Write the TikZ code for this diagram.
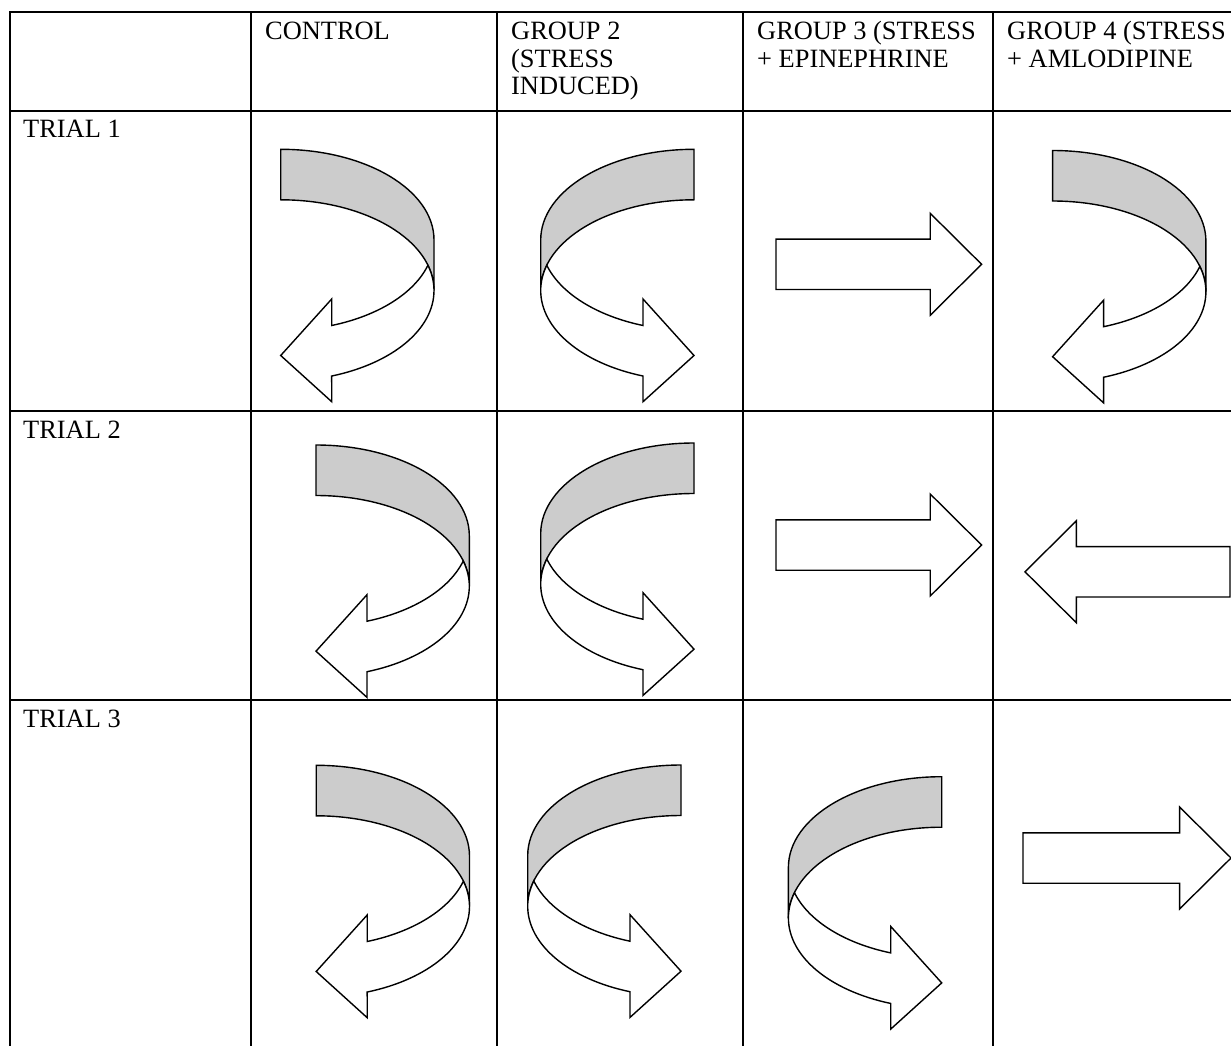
\documentclass[tikz,border=0pt]{standalone}
\usepackage{fontspec}
\setmainfont{Liberation Serif}
\definecolor{bandgray}{RGB}{204,204,204}
\tikzset{
  grid line/.style={line width=2pt, line cap=rect},
  outline/.style={draw=black, line width=1.4pt, line join=miter},
  lbl/.style={anchor=base west, inner sep=0pt, font=\fontsize{26.4}{27.5}\selectfont},
  pics/curvedleft/.style={code={
    \path[outline, fill=bandgray] (0,0)
      arc[start angle=90, end angle=0, x radius=153.3, y radius=90.7]
      -- ++(0,-50.5)
      arc[start angle=0, end angle=90, x radius=153.3, y radius=90.7] -- cycle;
    \path[outline, fill=white] (153.3,-141.2)
      arc[start angle=0, end angle=-70.57, x radius=153.3, y radius=90.7]
      -- (51,-252.4) -- (0,-206.2) -- (51,-149.7) -- (51,-176.2)
      arc[start angle=-70.57, end angle=-16.2, x radius=153.3, y radius=90.7]
      arc[start angle=16.2, end angle=0, x radius=153.3, y radius=90.7] -- cycle;
  }},
  pics/rarrow/.style={code={
    \path[outline, fill=white] (0,25.2) -- (#1-51.4,25.2) -- (#1-51.4,51) -- (#1,0)
      -- (#1-51.4,-51) -- (#1-51.4,-25.2) -- (0,-25.2) -- cycle;
  }}
}
\begin{document}
\begin{tikzpicture}[x=1pt,y=1pt]
\path[use as bounding box] (0,0) rectangle (1231,-1046);
\begin{scope}
\clip (0,0) rectangle (1231,-1046);
% table grid
\foreach \yy in {12.5,111,411,700} \draw[grid line] (9.5,-\yy) -- (1240,-\yy);
\foreach \xx in {9.5,251,497,743,993} \draw[grid line] (\xx,-12.5) -- (\xx,-1060);
% header labels
\node[lbl] (hc) at (265,-40) {CONTROL};
\node[lbl] (hg2a) at (511,-40) {GROUP 2};
\node[lbl] (hg2b) at (511,-67.5) {(STRESS};
\node[lbl] (hg2c) at (511,-95) {INDUCED)};
\node[lbl] (hg3a) at (757,-40) {GROUP 3 (STRESS};
\node[lbl] (hg3b) at (757,-67.5) {+ EPINEPHRINE};
\node[lbl] (hg4a) at (1007,-40) {GROUP 4 (STRESS};
\node[lbl] (hg4b) at (1007,-67.5) {+ AMLODIPINE};
\node[lbl] (t1) at (23,-138) {TRIAL 1};
\node[lbl] (t2) at (23,-438) {TRIAL 2};
\node[lbl] (t3) at (23,-727) {TRIAL 3};
% trial 1
\pic at (280.7,-149.3) {curvedleft};
\pic[xscale=-1] at (694,-149.3) {curvedleft};
\pic at (776,-264.3) {rarrow=205.6};
\pic at (1052.6,-150.5) {curvedleft};
% trial 2
\pic at (316,-445) {curvedleft};
\pic[xscale=-1] at (694,-443) {curvedleft};
\pic at (776,-545) {rarrow=205.6};
\pic[xscale=-1] at (1230,-571.8) {rarrow=205};
% trial 3
\pic at (316.2,-765.3) {curvedleft};
\pic[xscale=-1] at (681,-765) {curvedleft};
\pic[xscale=-1] at (941.7,-776.7) {curvedleft};
\pic at (1023,-858) {rarrow=208};
\end{scope}
\end{tikzpicture}
\end{document}
